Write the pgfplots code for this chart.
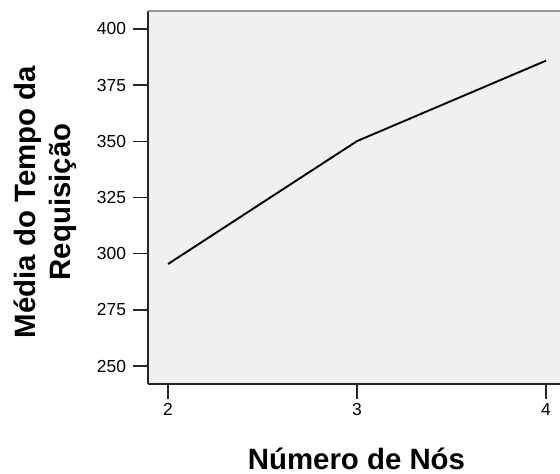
\documentclass[border=0pt]{standalone}
\usepackage{fontspec}
\setmainfont{Liberation Sans}
\usepackage{pgfplots}
\pgfplotsset{compat=1.18}
\definecolor{plotbg}{RGB}{240,240,240}
\definecolor{topline}{RGB}{150,150,150}
\begin{document}
\begin{tikzpicture}[x=1bp,y=1bp]
\begin{axis}[
  scale only axis,
  width=412bp, height=373bp,
  xmin=1.894, xmax=4.074,
  ymin=242, ymax=408,
  axis x line=bottom, axis y line=left,
  axis line style={-, line width=1.6pt, black!85},
  xtick={2,3,4}, ytick={250,275,...,400},
  tick align=outside,
  major tick length=15bp,
  every tick/.style={line width=1.6pt, black!85},
  xticklabels={2,3,4},
  yticklabels={250,275,300,325,350,375,400},
  tick label style={font=\fontsize{17.5}{20}\selectfont},
  xticklabel style={yshift=-1bp},
  yticklabel style={xshift=-3.5bp},
  axis background/.style={fill=plotbg},
  xlabel={Número de Nós},
  ylabel={Média do Tempo da\\Requisição},
  label style={font=\fontsize{29.5}{35}\selectfont\bfseries},
  xlabel style={at={(axis description cs:0.506,-0.228)}, anchor=base},
  ylabel style={at={(axis description cs:-0.25,0.488)}, anchor=center, align=center, rotate=0},
  clip=false,
]
\addplot[black, line width=1.9pt] coordinates {(2,295.4) (3,350.1) (4,385.9)};
\draw[topline, line width=1.6pt] (rel axis cs:0,1) -- (rel axis cs:1,1);
\coordinate (sw) at (rel axis cs:0,0);
\coordinate (ne) at (rel axis cs:1,1);
\end{axis}
\pgfresetboundingbox
\path ([shift={(-148bp,-90bp)}]sw) rectangle ([shift={(0bp,11bp)}]ne);
\end{tikzpicture}
\end{document}
